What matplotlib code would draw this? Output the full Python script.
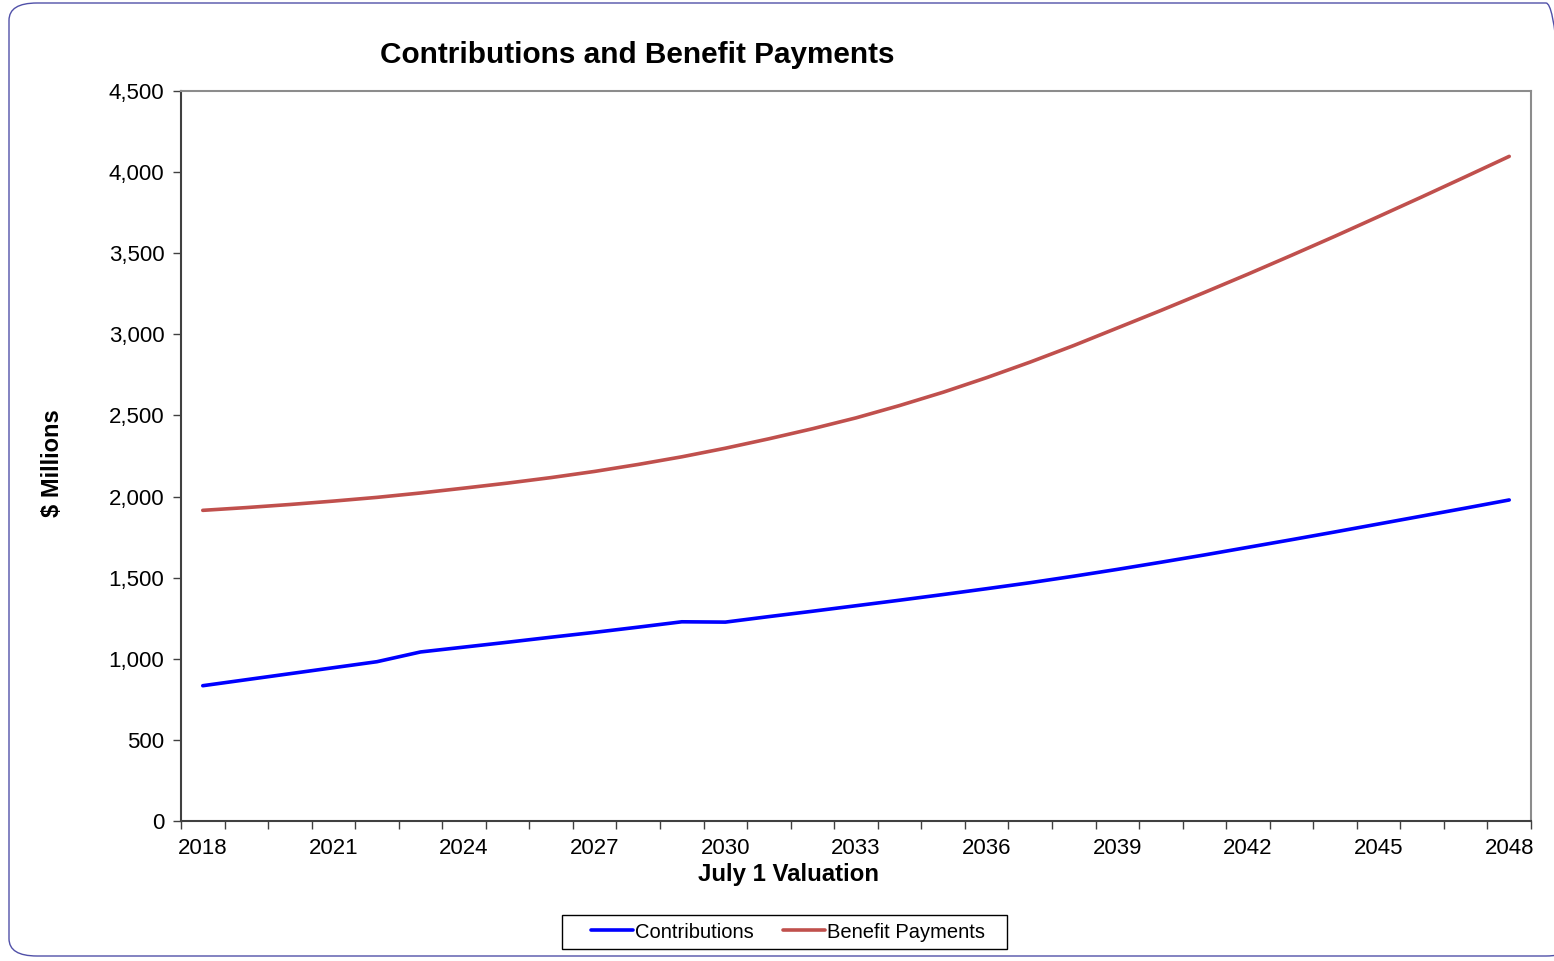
import matplotlib
matplotlib.use("Agg")
import matplotlib.pyplot as plt
from matplotlib.patches import FancyBboxPatch, Rectangle
from matplotlib.ticker import FixedLocator, FuncFormatter

plt.rcParams['font.family'] = ['Liberation Sans', 'DejaVu Sans']

# Valuation years and projected cash flows ($ millions)
years = list(range(2018, 2049))
contributions = [834, 871, 908, 945, 982, 1042, 1072, 1102, 1133, 1163,
                 1195, 1228, 1226, 1260, 1293, 1327, 1361, 1396, 1432, 1469,
                 1509, 1551, 1595, 1640, 1687, 1734, 1782, 1831, 1880, 1929,
                 1979]
benefit_payments = [1915, 1932, 1951, 1972, 1995, 2022, 2052, 2083, 2117, 2155,
                    2198, 2245, 2298, 2356, 2418, 2485, 2561, 2643, 2733, 2829,
                    2931, 3039, 3147, 3258, 3371, 3487, 3605, 3726, 3848, 3972,
                    4097]
y_ticks = [0, 500, 1000, 1500, 2000, 2500, 3000, 3500, 4000, 4500]
label_years = years[::3]

W, H = 1554, 961
fig = plt.figure(figsize=(W / 100, H / 100), dpi=100)
fig.patch.set_facecolor('white')

# rounded outer frame
frame = FancyBboxPatch((9 / W, 5 / H), (W + 20 - 9) / W, (958 - 5) / H,
                       boxstyle="round,pad=0,rounding_size=0.018",
                       transform=fig.transFigure, facecolor='none',
                       edgecolor='#5050a8', linewidth=1.0, clip_on=False)
fig.patches.append(frame)

left, right, top, bottom = 181, 1531, 91, 821
ax = fig.add_axes([left / W, (H - bottom) / H, (right - left) / W, (bottom - top) / H])

x = list(range(len(years)))
ax.plot(x, contributions, color='#0000FF', lw=2.6, label='Contributions',
        solid_capstyle='round', solid_joinstyle='round')
ax.plot(x, benefit_payments, color='#C0504D', lw=2.6, label='Benefit Payments',
        solid_capstyle='round', solid_joinstyle='round')

ax.set_xlim(-0.5, len(years) - 0.5)
ax.set_ylim(0, 4500)

# y axis
ax.yaxis.set_major_locator(FixedLocator(y_ticks))
ax.yaxis.set_major_formatter(FuncFormatter(lambda v, p: f"{int(v):,}"))
ax.tick_params(axis='y', which='major', direction='out', length=6, width=1,
               color='#404040', labelsize=16, pad=6)

# x axis: tick marks between categories, labels at every third year
boundaries = [i - 0.5 for i in range(len(years) + 1)]
ax.xaxis.set_major_locator(FixedLocator(boundaries))
ax.xaxis.set_major_formatter(FuncFormatter(lambda v, p: ""))
ax.tick_params(axis='x', which='major', direction='out', length=6, width=1,
               color='#404040')
label_pos = [years.index(yr) for yr in label_years]
ax.xaxis.set_minor_locator(FixedLocator(label_pos))
ax.xaxis.set_minor_formatter(FuncFormatter(lambda v, p: str(years[int(round(v))])))
ax.tick_params(axis='x', which='minor', length=0, labelsize=16, pad=12)

for side in ('left', 'bottom'):
    ax.spines[side].set_color('#404040')
    ax.spines[side].set_linewidth(1.5)
for side in ('top', 'right'):
    ax.spines[side].set_color('#8c8c8c')
    ax.spines[side].set_linewidth(1.5)

ax.set_ylabel('$ Millions', fontsize=17, fontweight='bold')
ax.yaxis.set_label_coords((64 - left) / (right - left), 0.49)
ax.set_xlabel('July 1 Valuation', fontsize=17.3, fontweight='bold')
ax.xaxis.set_label_coords((789 - left) / (right - left), (bottom - 863) / (bottom - top))

fig.text(637 / W, (H - 55) / H, 'Contributions and Benefit Payments',
         fontsize=21.4, fontweight='bold', ha='center', va='center')

# legend entries, with a separately drawn box around them
leg = fig.legend(loc='center', bbox_to_anchor=(788 / W, (H - 932) / H),
                 ncol=2, fontsize=14.5, frameon=False,
                 handlelength=2.1, handletextpad=0.1, columnspacing=1.45)
for line in leg.get_lines():
    line.set_linewidth(2.6)
fig.patches.append(Rectangle((562 / W, (H - 949) / H), (1007 - 562) / W, 34 / H,
                             transform=fig.transFigure, facecolor='none',
                             edgecolor='black', linewidth=1.0))

fig.savefig('out.png', dpi=100)
